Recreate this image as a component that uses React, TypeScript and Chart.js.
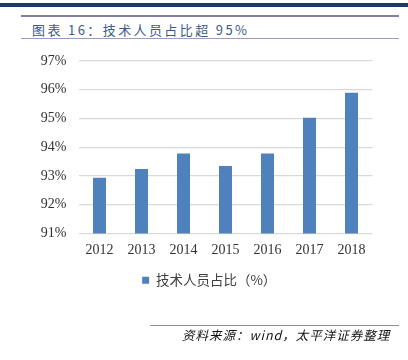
import React, { useEffect, useRef } from "react";
import { Chart, registerables } from "chart.js";

Chart.register(...registerables);

const categories = ["2012", "2013", "2014", "2015", "2016", "2017", "2018"];
const techShare = [92.94, 93.24, 93.78, 93.35, 93.78, 95.03, 95.9];
const seriesLabel = "技术人员占比（%）";
const yMin = 91;
const yMax = 97;
const titleText = "图表 16：技术人员占比超 95%";
const sourceText = "资料来源：wind，太平洋证券整理";

const legendShift = {
  id: "legendShift",
  afterLayout(chart: any) {
    const lg = chart.legend;
    if (lg) {
      lg.left += 23;
      lg.right += 23;
    }
  },
};

export default function App() {
  const canvasRef = useRef<HTMLCanvasElement | null>(null);

  useEffect(() => {
    const canvas = canvasRef.current;
    if (!canvas) return;
    const chart = new Chart(canvas, {
      type: "bar",
      data: {
        labels: categories,
        datasets: [
          {
            label: seriesLabel,
            data: techShare,
            backgroundColor: "#4f81bd",
            borderWidth: 0,
            barPercentage: 0.62,
            categoryPercentage: 0.5,
          },
        ],
      },
      options: {
        responsive: false,
        animation: false,
        devicePixelRatio: 1,
        layout: { padding: { top: 61, left: 0, right: 35.5, bottom: 63 } },
        scales: {
          x: {
            grid: { display: false, drawTicks: false },
            border: { display: false },
            ticks: {
              padding: 8,
              color: "#333333",
              font: { family: "'Liberation Serif', serif", size: 14 },
            },
            afterFit: (scale: any) => {
              scale.height = 30;
            },
          },
          y: {
            min: yMin,
            max: yMax,
            grid: { color: "#d9d9d9", lineWidth: 1.2, drawTicks: false },
            border: { display: false },
            ticks: {
              stepSize: 1,
              padding: 12,
              color: "#333333",
              font: { family: "'Liberation Serif', serif", size: 14 },
              callback: (v: any) => `${v}%`,
            },
            afterFit: (scale: any) => {
              scale.width = 78.5;
            },
          },
        },
        plugins: {
          legend: {
            position: "bottom",
            labels: {
              boxWidth: 7,
              boxHeight: 7,
              padding: 10,
              color: "#404040",
              font: { family: "'Noto Sans CJK SC', sans-serif", size: 13.5 },
            },
          },
          tooltip: { enabled: false },
        },
      },
      plugins: [legendShift],
    });
    return () => chart.destroy();
  }, []);

  return (
    <div
      style={{
        position: "fixed",
        left: 0,
        top: 0,
        width: 408,
        height: 360,
        background: "#ffffff",
        overflow: "hidden",
      }}
    >
      <div style={{ position: "absolute", left: 0, top: 3, width: 408, height: 4, background: "#1f3a60" }} />
      <div style={{ position: "absolute", left: 21, top: 15, width: 378, height: 2, background: "#7f7fa8" }} />
      <div
        style={{
          position: "absolute",
          left: 32,
          top: 20,
          fontFamily: "'Noto Sans CJK SC', sans-serif",
          fontSize: 13,
          lineHeight: "20px",
          letterSpacing: "2.4px",
          color: "#3d5a86",
          whiteSpace: "nowrap",
        }}
      >
        {titleText}
      </div>
      <div style={{ position: "absolute", left: 21, top: 38, width: 378, height: 1, background: "#9b9bc0" }} />
      <canvas
        ref={canvasRef}
        width={408}
        height={360}
        style={{ position: "absolute", left: 0, top: 0, width: 408, height: 360 }}
      />
      <div style={{ position: "absolute", left: 150, top: 325, width: 249, height: 1, background: "#8c8cb0" }} />
      <div
        style={{
          position: "absolute",
          left: 182,
          top: 326,
          fontFamily: "'Noto Sans CJK SC', sans-serif",
          fontSize: 12.5,
          fontStyle: "italic",
          lineHeight: "18px",
          letterSpacing: "1px",
          color: "#111111",
          whiteSpace: "nowrap",
        }}
      >
        {sourceText}
      </div>
    </div>
  );
}
